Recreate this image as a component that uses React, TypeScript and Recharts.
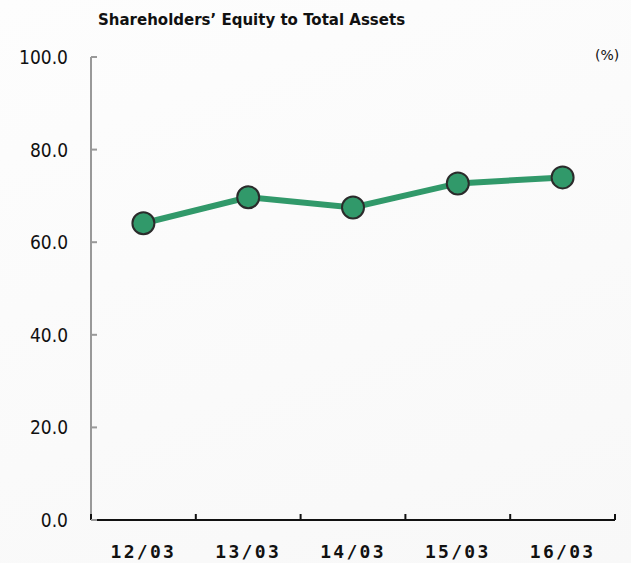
import React from 'react';
import { LineChart, Line, XAxis, YAxis } from 'recharts';

const years = ['12/03', '13/03', '14/03', '15/03', '16/03'];
const equityRatio = [64.1, 69.7, 67.5, 72.7, 74.0];
const yTicks = [0, 20, 40, 60, 80, 100];

const data = years.map((year, i) => ({ year, ratio: equityRatio[i] }));

const GREEN = '#31996a';
const HALF_BAND = 52.4;

const YTick = (props: any) => {
  const { x, y, payload } = props;
  return (
    <g>
      <line x1={x} y1={y} x2={x + 6} y2={y} stroke="#999" strokeWidth={2} />
      <text
        x={x - 23}
        y={y}
        dy={7}
        textAnchor="end"
        fontFamily="'DejaVu Sans Condensed', 'DejaVu Sans', sans-serif"
        fontSize={19}
        fill="#111"
      >
        {payload.value.toFixed(1)}
      </text>
    </g>
  );
};

// label at band centre, tick marks at band boundaries
const XLabel = (props: any) => {
  const { x, y, payload, index, visibleTicksCount } = props;
  const last = index === visibleTicksCount - 1;
  return (
    <g>
      <line x1={x - HALF_BAND} y1={y} x2={x - HALF_BAND} y2={y - 6} stroke="#111" strokeWidth={2} />
      {last && <line x1={x + HALF_BAND} y1={y} x2={x + HALF_BAND} y2={y - 6} stroke="#111" strokeWidth={2} />}
      <text
        x={x}
        y={y}
        dy={38}
        textAnchor="middle"
        fontFamily="'DejaVu Sans Mono', monospace"
        fontWeight="bold"
        fontSize={18}
        letterSpacing={2.3}
        fill="#111"
      >
        {payload.value}
      </text>
    </g>
  );
};

export default function App() {
  return (
    <div style={{ width: 631, height: 563, position: 'absolute', left: 0, top: 0, background: 'linear-gradient(160deg, #fdfdfd 0%, #f8f8f8 100%)' }}>
      <div
        style={{
          position: 'absolute',
          left: 98,
          top: 11,
          fontFamily: "'DejaVu Sans', sans-serif",
          fontWeight: 'bold',
          fontSize: 15,
          color: '#111',
        }}
      >
        Shareholders’ Equity to Total Assets
      </div>
      <div
        style={{
          position: 'absolute',
          left: 595,
          top: 47,
          fontFamily: "'DejaVu Sans', sans-serif",
          fontSize: 14,
          color: '#111',
        }}
      >
        (%)
      </div>
      <LineChart
        width={631}
        height={563}
        data={data}
        margin={{ top: 57, right: 16, bottom: 0, left: 0 }}
      >
        <XAxis
          dataKey="year"
          padding={{ left: HALF_BAND, right: HALF_BAND }}
          axisLine={{ stroke: '#111', strokeWidth: 2 }}
          tickLine={false}
          tickSize={0}
          tickMargin={0}
          tick={<XLabel />}
          interval={0}
          height={43}
        />
        <YAxis
          domain={[0, 100]}
          ticks={yTicks}
          width={91}
          axisLine={{ stroke: '#999', strokeWidth: 2 }}
          tickLine={false}
          tick={<YTick />}
          tickSize={0}
          tickMargin={0}
          interval={0}
        />
        <Line
          dataKey="ratio"
          stroke={GREEN}
          strokeWidth={6}
          dot={{ r: 11, fill: GREEN, stroke: '#2b2b2b', strokeWidth: 2 }}
          isAnimationActive={false}
        />
      </LineChart>
    </div>
  );
}
